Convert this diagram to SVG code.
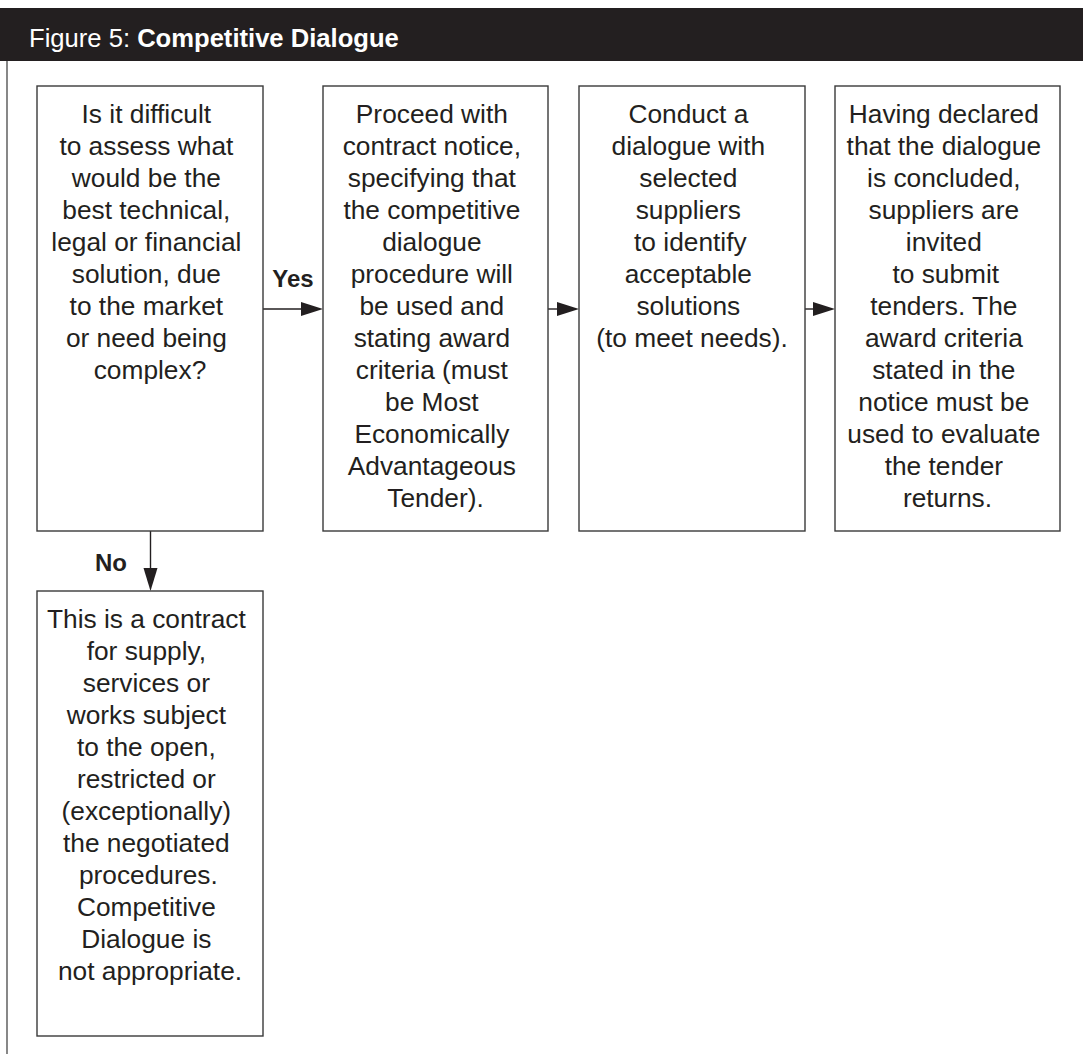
<svg xmlns="http://www.w3.org/2000/svg" width="1083" height="1054" viewBox="0 0 1083 1054">
  <style>
    .box { fill: #ffffff; stroke: #3a3a3a; stroke-width: 1.4; }
    .txt { font-family: "Liberation Sans", Arial, Helvetica, sans-serif; font-size: 26.3px; fill: #231f20; text-anchor: middle; }
    .lbl { font-family: "Liberation Sans", Arial, Helvetica, sans-serif; font-size: 24px; font-weight: bold; fill: #231f20; text-anchor: middle; }
    .title { font-family: "Liberation Sans", Arial, Helvetica, sans-serif; font-size: 25.6px; fill: #ffffff; }
    .edge { stroke: #231f20; stroke-width: 1.4; fill: none; }
    .head { fill: #231f20; }
  </style>

  <!-- page background -->
  <rect x="0" y="0" width="1083" height="1054" fill="#ffffff"/>

  <!-- title band -->
  <g id="header">
    <rect x="0" y="8" width="1083" height="53" fill="#231f20"/>
    <text class="title" x="29" y="47">Figure 5: <tspan font-weight="bold">Competitive Dialogue</tspan></text>
  </g>

  <!-- frame line on the left -->
  <line x1="7" y1="61" x2="7" y2="1054" stroke="#555555" stroke-width="1.4"/>

  <!-- connectors -->
  <g id="connectors">
    <line class="edge" x1="263" y1="309" x2="302" y2="309"/>
    <polygon class="head" points="301,302 323,309 301,316"/>
    <line class="edge" x1="548" y1="309" x2="558" y2="309"/>
    <polygon class="head" points="557,302 579,309 557,316"/>
    <line class="edge" x1="805" y1="309" x2="814" y2="309"/>
    <polygon class="head" points="813,302 835,309 813,316"/>
    <line class="edge" x1="150.5" y1="531" x2="150.5" y2="570"/>
    <polygon class="head" points="143.5,568 150.5,591 157.5,568"/>
    <text class="lbl" x="293" y="287">Yes</text>
    <text class="lbl" x="111" y="571">No</text>
  </g>

  <g id="question">
    <rect class="box" x="37" y="86" width="226" height="445"/>
    <text class="txt">
      <tspan x="150" y="123">Is it difficult</tspan>
      <tspan x="150" y="155">to assess what</tspan>
      <tspan x="150" y="187">would be the</tspan>
      <tspan x="150" y="219">best technical,</tspan>
      <tspan x="150" y="251">legal or financial</tspan>
      <tspan x="150" y="283">solution, due</tspan>
      <tspan x="150" y="315">to the market</tspan>
      <tspan x="150" y="347">or need being</tspan>
      <tspan x="150" y="379">complex?</tspan>
    </text>
  </g>

  <g id="contract-notice">
    <rect class="box" x="323" y="86" width="225" height="445"/>
    <text class="txt">
      <tspan x="435.5" y="123">Proceed with</tspan>
      <tspan x="435.5" y="155">contract notice,</tspan>
      <tspan x="435.5" y="187">specifying that</tspan>
      <tspan x="435.5" y="219">the competitive</tspan>
      <tspan x="435.5" y="251">dialogue</tspan>
      <tspan x="435.5" y="283">procedure will</tspan>
      <tspan x="435.5" y="315">be used and</tspan>
      <tspan x="435.5" y="347">stating award</tspan>
      <tspan x="435.5" y="379">criteria (must</tspan>
      <tspan x="435.5" y="411">be Most</tspan>
      <tspan x="435.5" y="443">Economically</tspan>
      <tspan x="435.5" y="475">Advantageous</tspan>
      <tspan x="435.5" y="507">Tender).</tspan>
    </text>
  </g>

  <g id="dialogue">
    <rect class="box" x="579" y="86" width="226" height="445"/>
    <text class="txt">
      <tspan x="692" y="123">Conduct a</tspan>
      <tspan x="692" y="155">dialogue with</tspan>
      <tspan x="692" y="187">selected</tspan>
      <tspan x="692" y="219">suppliers</tspan>
      <tspan x="694" y="251">to identify</tspan>
      <tspan x="692" y="283">acceptable</tspan>
      <tspan x="692" y="315">solutions</tspan>
      <tspan x="692" y="347">(to meet needs).</tspan>
    </text>
  </g>

  <g id="tenders">
    <rect class="box" x="835" y="86" width="225" height="445"/>
    <text class="txt">
      <tspan x="947.5" y="123">Having declared</tspan>
      <tspan x="947.5" y="155">that the dialogue</tspan>
      <tspan x="947.5" y="187">is concluded,</tspan>
      <tspan x="947.5" y="219">suppliers are</tspan>
      <tspan x="947.5" y="251">invited</tspan>
      <tspan x="949.5" y="283">to submit</tspan>
      <tspan x="947.5" y="315">tenders. The</tspan>
      <tspan x="947.5" y="347">award criteria</tspan>
      <tspan x="947.5" y="379">stated in the</tspan>
      <tspan x="947.5" y="411">notice must be</tspan>
      <tspan x="947.5" y="443">used to evaluate</tspan>
      <tspan x="947.5" y="475">the tender</tspan>
      <tspan x="947.5" y="507">returns.</tspan>
    </text>
  </g>

  <g id="not-appropriate">
    <rect class="box" x="37" y="591" width="226" height="445"/>
    <text class="txt">
      <tspan x="150" y="628">This is a contract</tspan>
      <tspan x="150" y="660">for supply,</tspan>
      <tspan x="150" y="692">services or</tspan>
      <tspan x="150" y="724">works subject</tspan>
      <tspan x="150" y="756">to the open,</tspan>
      <tspan x="150" y="788">restricted or</tspan>
      <tspan x="150" y="820">(exceptionally)</tspan>
      <tspan x="150" y="852">the negotiated</tspan>
      <tspan x="152" y="884">procedures.</tspan>
      <tspan x="150" y="916">Competitive</tspan>
      <tspan x="150" y="948">Dialogue is</tspan>
      <tspan x="150" y="980">not appropriate.</tspan>
    </text>
  </g>
</svg>
